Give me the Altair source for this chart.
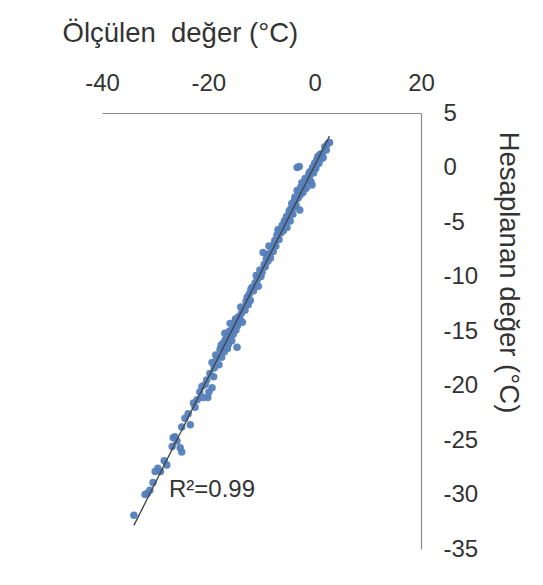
import altair as alt
import pandas as pd

# Measured (x) and computed (y) temperatures
measured_low = [-34.0, -31.9, -31.5, -31.0, -30.4, -30.0, -29.5, -29.0, -27.8, -28.3,
                -26.8, -26.6, -26.3, -25.9, -25.0, -25.3, -25.0, -24.4, -23.4, -23.8,
                -22.5, -22.1, -22.8]
computed_low = [-31.9, -30.0, -29.9, -29.6, -28.9, -27.9, -27.6, -27.9, -27.3, -26.9,
                -25.6, -24.8, -24.7, -25.1, -26.1, -25.7, -23.8, -23.0, -23.6, -22.6,
                -22.0, -21.3, -21.6]

measured_mid = [-21.0, -20.1, -21.2, -20.3, -19.3, -19.7, -20.6, -19.9, -19.3, -18.9,
                -18.4, -18.0, -17.8, -17.5, -17.2, -17.0, -16.8, -16.5, -16.2, -16.0,
                -15.8, -15.5, -15.3, -15.0, -14.8, -14.6, -14.5, -14.3, -14.0, -13.8,
                -13.6, -13.4, -13.1, -12.9, -12.7, -12.5, -12.3, -12.1,
                -16.9, -16.4, -15.9, -15.6, -17.6, -18.6, -19.0, -21.6, -13.9, -14.9,
                -16.1, -15.2]
computed_mid = [-21.1, -21.1, -20.1, -19.5, -20.2, -18.9, -19.9, -20.6, -17.9, -18.4,
                -17.5, -18.1, -16.7, -17.4, -16.1, -16.9, -15.8, -15.5, -16.2, -15.0,
                -15.6, -14.9, -15.3, -14.2, -14.9, -16.5, -14.5, -13.7, -14.0, -13.4,
                -14.2, -13.0, -13.1, -12.3, -11.9, -12.6, -11.6, -12.2,
                -15.2, -16.6, -14.3, -15.9, -16.3, -17.2, -19.2, -20.6, -12.8, -13.9,
                -15.8, -14.6]

measured_high = [-11.8, -11.5, -11.2, -10.8, -10.6, -10.3, -10.1, -9.9, -9.7, -9.5,
                 -9.3, -9.0, -8.8, -8.5, -8.3, -8.0, -7.8, -7.5, -7.3, -7.1,
                 -6.9, -6.7, -6.4, -6.1, -5.9, -5.6, -5.4, -5.2, -5.0, -4.8,
                 -4.6, -4.3, -4.3, -4.0, -3.8, -3.7, -3.5, -3.3, -3.1, -2.8,
                 -2.9, -2.6, -2.4, -2.2, -2.0, -1.8, -1.6, -1.3, -1.1, -0.9,
                 -0.7, -0.5, -0.4, -0.2, 0.0, 0.2, 0.4, 0.6, 0.8, 1.0,
                 1.4, 1.6, 1.9, 2.2, 2.5, 2.8, -3.3, -2.9,
                 -11.0, -10.4, -9.1, -8.6, -7.6, -6.6, -6.2, -5.7, -5.3, -4.5,
                 -4.1, -3.6, -2.7, -2.3, -1.5, -1.0, -0.3, 0.3, 1.2, -12.0]
computed_high = [-11.0, -11.3, -10.6, -10.3, -10.9, -9.4, -10.0, -9.6, -7.8, -8.9,
                 -9.1, -8.0, -8.6, -7.9, -8.3, -7.3, -7.7, -6.7, -7.2, -6.2,
                 -5.7, -6.6, -6.0, -5.3, -5.8, -5.3, -4.8, -5.5, -4.5, -4.0,
                 -4.9, -4.2, -3.3, -3.7, -3.0, -2.7, -3.5, -2.1, -2.8, -3.9,
                 -2.2, -1.8, -1.4, -2.3, -1.6, -1.0, -1.9, -1.1, -0.6, -0.4,
                 -1.3, -1.6, 0.0, -0.5, 0.4, -0.1, 0.7, 1.0, 0.4, 1.2,
                 1.3, 0.9, 1.9, 1.6, 2.2, 2.3, 0.0, 0.1,
                 -9.9, -9.9, -8.4, -7.2, -7.0, -5.9, -5.6, -4.9, -4.5, -3.8,
                 -4.3, -3.2, -2.5, -1.9, -1.2, -0.9, -0.2, 0.2, 0.8, -11.2]

x_ticks = [-40, -20, 0, 20]
y_ticks = [5, 0, -5, -10, -15, -20, -25, -30, -35]
x_title = "Ölçülen\u00a0 değer (°C)"
y_title = "Hesaplanan değer (°C)"
r2_text = ["R²=0.99"]
r2_x = [-27.4]
r2_y = [-29.6]

df = pd.DataFrame({
    "measured": measured_low + measured_mid + measured_high,
    "computed": computed_low + computed_mid + computed_high,
})
ann = pd.DataFrame({"x": r2_x, "y": r2_y, "t": r2_text})

FONT = "Liberation Sans"
TXT = "#333333"
PLAIN_LABEL = "'' + datum.value"

x_enc = alt.X(
    "measured:Q",
    scale=alt.Scale(domain=[-40, 20], nice=False, zero=False),
    axis=alt.Axis(
        orient="top", values=x_ticks, title=x_title, ticks=False, grid=False,
        domainColor="#8c8c8c", domainWidth=1.2, labelExpr=PLAIN_LABEL,
        labelFlush=False, labelOverlap=False,
        labelFontSize=24, labelColor=TXT, labelFont=FONT, labelPadding=18,
        titleFontSize=27.5, titleColor=TXT, titleFont=FONT, titleFontWeight="normal",
        titleX=-40, titleY=-80, titleAlign="left", titleBaseline="middle",
        titleAngle=0,
    ),
)
y_enc = alt.Y(
    "computed:Q",
    scale=alt.Scale(domain=[-35, 5], nice=False, zero=False),
    axis=alt.Axis(
        orient="right", values=y_ticks, title=y_title, ticks=False, grid=False,
        domainColor="#8c8c8c", domainWidth=1.2, labelExpr=PLAIN_LABEL,
        labelFlush=False, labelOverlap=False,
        labelFontSize=24, labelColor=TXT, labelFont=FONT, labelPadding=22,
        labelAlign="left", labelBaseline="middle",
        titleFontSize=27.5, titleColor=TXT, titleFont=FONT, titleFontWeight="normal",
        titleAngle=90, titleX=86, titleY=159, titleAlign="center",
        titleBaseline="middle",
    ),
)

points = alt.Chart(df).mark_circle(size=56, color="#5580bb", opacity=0.95).encode(
    x=x_enc, y=y_enc
)
trend = alt.Chart(df).transform_regression(
    "measured", "computed"
).mark_line(color="#404040", strokeWidth=1.3).encode(
    x="measured:Q", y="computed:Q"
)
label = alt.Chart(ann).mark_text(
    align="left", baseline="middle", fontSize=24, font=FONT, color=TXT
).encode(x="x:Q", y="y:Q", text="t:N")

chart = alt.layer(points, trend, label).properties(
    width=319, height=436,
    background="white",
    autosize=alt.AutoSizeParams(type="none"),
    padding={"left": 94, "top": 105, "right": 110, "bottom": 30},
).configure_view(stroke=None)

chart.save("out.html", embed_options={"renderer": "svg", "actions": False})
